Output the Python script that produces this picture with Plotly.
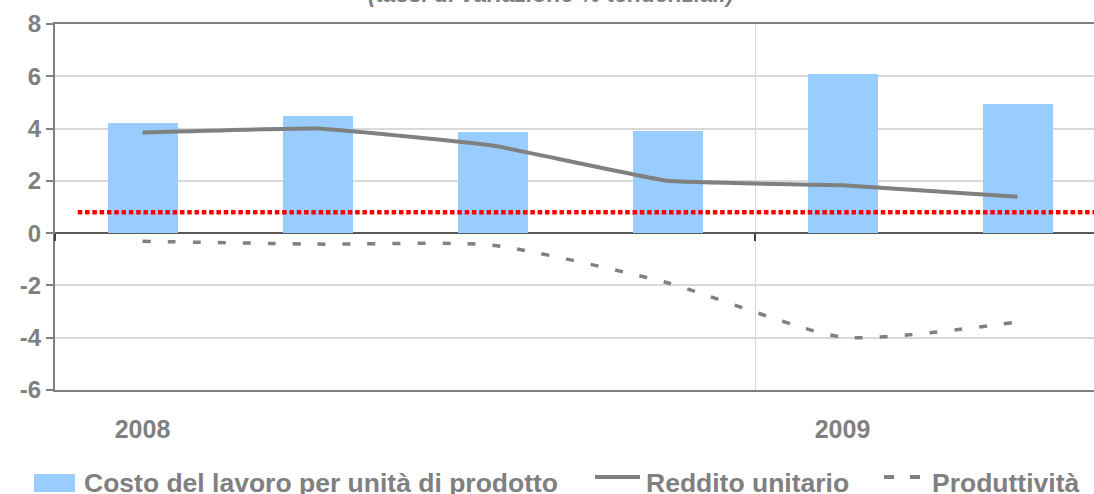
import plotly.graph_objects as go

# ---- data ----
trimestri = ["I 2008", "II 2008", "III 2008", "IV 2008", "I 2009", "II 2009"]
costo_lavoro = [4.2, 4.5, 3.85, 3.9, 6.1, 4.95]
reddito_unitario = [3.85, 4.0, 3.35, 2.0, 1.83, 1.39]
produttivita = [-0.31, -0.42, -0.46, -1.9, -3.98, -3.4]
riferimento = 0.8
anni = ["2008", "2009"]
nomi = ["Costo del lavoro per unità di prodotto", "Reddito unitario", "Produttività"]
titolo = "(tassi di variazione % tendenziali)"
y_ticks = [-6, -4, -2, 0, 2, 4, 6, 8]

# ---- layout helpers ----
W, H = 1094, 494
ML, MR, MT, MB = 55, 0, 24, 104
PW, PH = W - ML - MR, H - MT - MB
band = 175.0
xr = [-0.5, -0.5 + PW / band]
yr = [y_ticks[0], y_ticks[-1]]

def px_x(p):
    return (p - ML) / PW

def px_y(p):
    return (H - MB - p) / PH

x = list(range(len(trimestri)))
ann_pos = [i for i, t in enumerate(trimestri) if t.startswith("I ")]
year_bounds = [i - 0.5 for i in ann_pos]

GRAY = "#808080"
FONT = "Liberation Sans, Arial, sans-serif"

fig = go.Figure()
fig.add_trace(go.Bar(x=x, y=costo_lavoro, name=nomi[0], marker=dict(color="#99CCFF", line=dict(width=0)),
                     width=0.4, showlegend=False))
fig.add_trace(go.Scatter(x=x, y=reddito_unitario, name=nomi[1], mode="lines",
                         line=dict(color=GRAY, width=4, shape="spline", smoothing=0.3), showlegend=False))
fig.add_trace(go.Scatter(x=x, y=produttivita, name=nomi[2], mode="lines",
                         line=dict(color=GRAY, width=3.5, dash="8px,17px", shape="spline", smoothing=0.6),
                         showlegend=False))
# invisible trace to keep the zero-crossing axis alive
fig.add_trace(go.Scatter(x=[x[0]], y=[0], xaxis="x2", mode="markers", marker=dict(opacity=0),
                         showlegend=False, hoverinfo="skip"))

# reference dotted red line
fig.add_shape(type="line", xref="x", yref="y", x0=-0.37, x1=xr[1], y0=riferimento, y1=riferimento,
              line=dict(color="#FF0000", width=4.5, dash="4.5px,2.8px"))

fig.update_layout(
    width=W, height=H,
    margin=dict(l=ML, r=MR, t=MT, b=MB, pad=0),
    plot_bgcolor="white", paper_bgcolor="white",
    font=dict(family=FONT, color=GRAY, size=24),
    bargap=0,
    xaxis=dict(range=xr, tickvals=ann_pos, ticktext=anni, showgrid=False, zeroline=False,
               showline=True, linecolor=GRAY, linewidth=2, mirror=True, ticks="",
               ticklabelstandoff=16,
               tickfont=dict(size=25, color=GRAY, family=FONT, weight="bold")),
    xaxis2=dict(overlaying="x", anchor="free", position=(0 - yr[0]) / (yr[1] - yr[0]), side="bottom",
                range=xr, tickvals=year_bounds, showticklabels=False, ticks="outside", ticklen=7,
                tickcolor="#404040", tickwidth=2, showgrid=True, gridcolor="#D9D9D9", gridwidth=1,
                zeroline=False, showline=False),
    yaxis=dict(range=yr, tickvals=y_ticks, ticktext=[str(v) for v in y_ticks],
               showgrid=True, gridcolor="#D9D9D9", gridwidth=1.5,
               zeroline=True, zerolinecolor="#595959", zerolinewidth=2,
               showline=True, linecolor=GRAY, linewidth=2, ticks="outside", ticklen=7, tickcolor=GRAY,
               tickwidth=2,
               tickfont=dict(size=24, color=GRAY, family=FONT, weight="bold")),
)

# title (partly above the frame)
fig.add_annotation(text=titolo, xref="paper", yref="paper", x=px_x(551), y=px_y(-6),
                   xanchor="center", yanchor="middle", showarrow=False,
                   font=dict(size=23, color=GRAY, family=FONT, weight="bold", style="italic"))

# custom legend
ly = 483
fig.add_shape(type="rect", xref="paper", yref="paper", x0=px_x(34), x1=px_x(75), y0=px_y(492), y1=px_y(474),
              fillcolor="#99CCFF", line=dict(width=0))
fig.add_shape(type="line", xref="paper", yref="paper", x0=px_x(595), x1=px_x(640), y0=px_y(477), y1=px_y(477),
              line=dict(color=GRAY, width=4))
fig.add_shape(type="line", xref="paper", yref="paper", x0=px_x(884), x1=px_x(922), y0=px_y(477), y1=px_y(477),
              line=dict(color=GRAY, width=4, dash="10px,16px"))
for nome, px0 in zip(nomi, [82, 644, 930]):
    fig.add_annotation(text=nome, xref="paper", yref="paper", x=px_x(px0), y=px_y(ly),
                       xanchor="left", yanchor="middle", showarrow=False,
                       font=dict(size=26.5, color=GRAY, family=FONT, weight="bold"))

fig.write_html("out.html", config={"displayModeBar": False},
               post_script="document.body.style.margin='0px';")
